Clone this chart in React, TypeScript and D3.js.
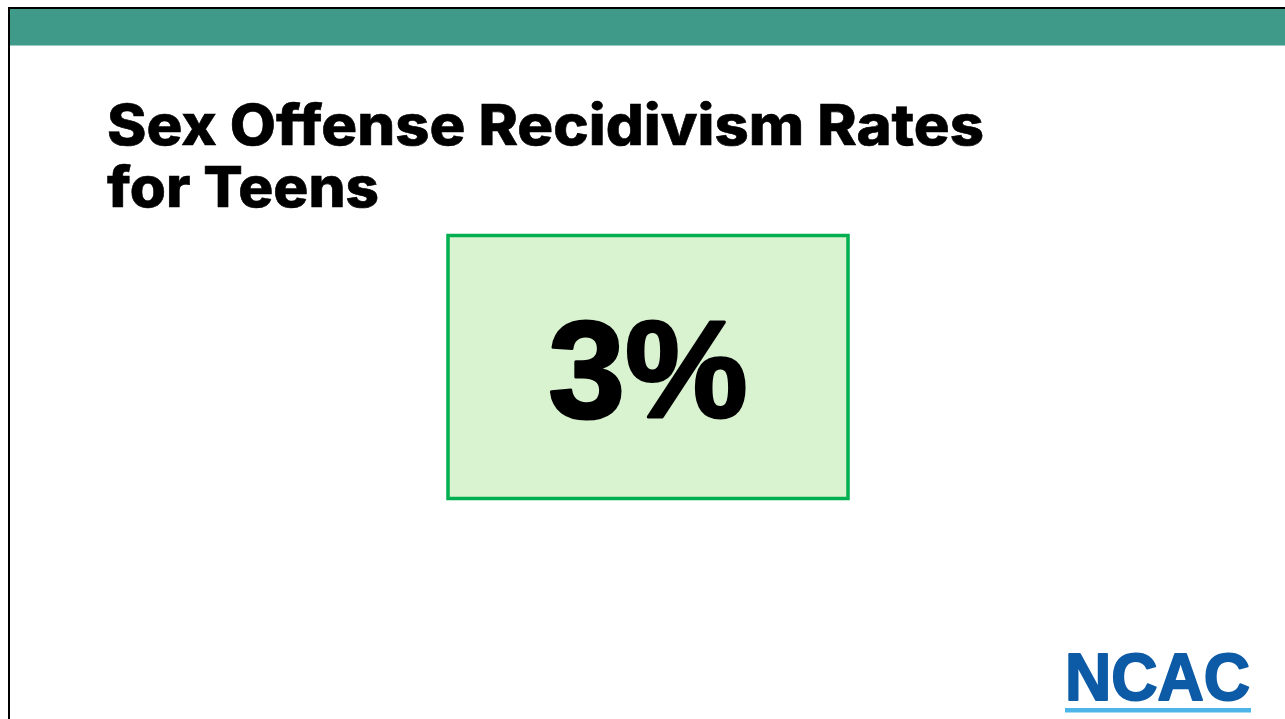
import React from "react";
import * as d3 from "d3";

const titleLines: string[] = ["Sex Offense Recidivism Rates", "for Teens"];
const statLabels: string[] = ["Teen sex offense recidivism"];
const statValues: number[] = [3];
const logoText: string[] = ["NCAC"];

const W = 1285;
const H = 719;

export default function App() {
  const fmt = (v: number) => d3.format("d")(v) + "%";
  const boxX = d3.scaleLinear().domain([0, 1]).range([448, 848]);
  const boxY = d3.scaleLinear().domain([0, 1]).range([235.5, 498.5]);
  return (
    <svg
      width={W}
      height={H}
      style={{ position: "absolute", left: 0, top: 0, background: "#fff" }}
      xmlns="http://www.w3.org/2000/svg"
    >
      <rect x={0} y={0} width={W} height={H} fill="#ffffff" />
      {/* teal header band */}
      <rect x={9} y={8} width={W - 9} height={37.5} fill="#3F9A89" />
      {/* slide frame */}
      <line x1={8} y1={8} x2={W} y2={8} stroke="#000" strokeWidth={2} />
      <line x1={9} y1={7} x2={9} y2={H} stroke="#000" strokeWidth={2} />

      {/* title */}
      {titleLines.map((t, i) => (
        <text
          key={i}
          x={107}
          y={145 + i * 62}
          fontFamily="Inter, 'Open Sans', sans-serif"
          fontWeight={800}
          fontSize={56}
          fill="#000"
          stroke="#000"
          strokeWidth={0.6}
          textLength={i === 0 ? 877 : 272}
          lengthAdjust="spacingAndGlyphs"
        >
          {t}
        </text>
      ))}

      {/* stat box */}
      {statValues.map((v, i) => (
        <g key={i} aria-label={statLabels[i]}>
          <rect
            x={boxX(0)}
            y={boxY(0)}
            width={boxX(1) - boxX(0)}
            height={boxY(1) - boxY(0)}
            fill="#D9F2D0"
            stroke="#00B050"
            strokeWidth={3.5}
          />
          <text
            x={(boxX(0) + boxX(1)) / 2}
            y={417}
            textAnchor="middle"
            fontFamily="'Liberation Sans', Arial, sans-serif"
            fontWeight={700}
            fontSize={138}
            fill="#000"
            stroke="#000"
            strokeWidth={3}
            strokeLinejoin="round"
          >
            {fmt(v)}
          </text>
        </g>
      ))}

      {/* logo */}
      <text
        x={1065}
        y={700}
        fontFamily="'Liberation Sans', Arial, sans-serif"
        fontWeight={700}
        fontSize={66}
        fill="#0D5BA6"
        stroke="#0D5BA6"
        strokeWidth={2}
        strokeLinejoin="round"
        textLength={185}
        lengthAdjust="spacingAndGlyphs"
      >
        {logoText[0]}
      </text>
      <rect x={1065} y={708} width={186} height={4.5} fill="#4DB5E8" />
    </svg>
  );
}
